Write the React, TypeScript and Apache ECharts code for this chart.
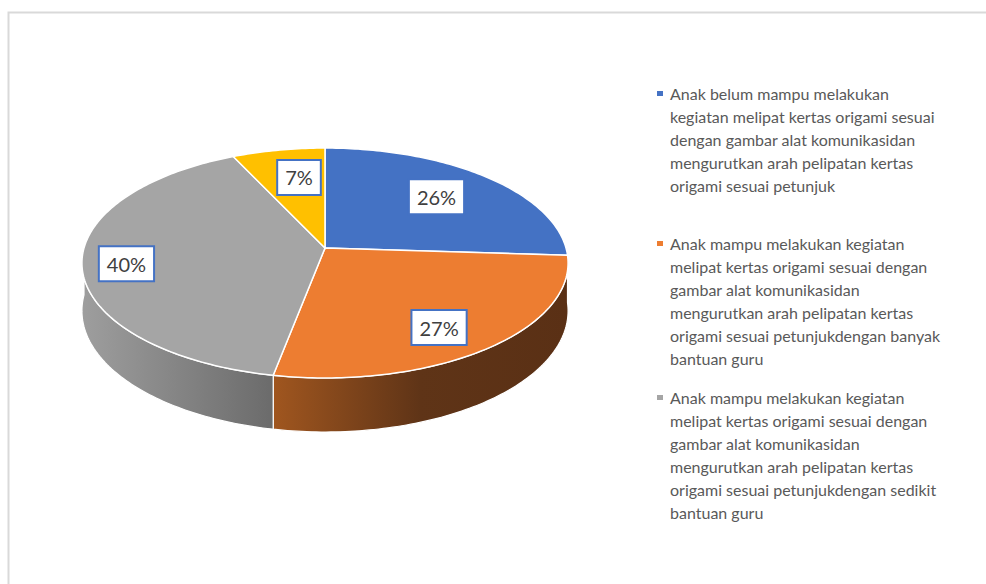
import React, { useEffect, useRef } from 'react';
import * as echarts from 'echarts';

// ---- data ----
const categories: string[] = [
  'Anak belum mampu melakukan\nkegiatan melipat kertas origami sesuai\ndengan gambar alat komunikasidan\nmengurutkan arah pelipatan kertas\norigami sesuai petunjuk',
  'Anak mampu melakukan kegiatan\nmelipat kertas origami sesuai dengan\ngambar alat komunikasidan\nmengurutkan arah pelipatan kertas\norigami sesuai petunjukdengan banyak\nbantuan guru',
  'Anak mampu melakukan kegiatan\nmelipat kertas origami sesuai dengan\ngambar alat komunikasidan\nmengurutkan arah pelipatan kertas\norigami sesuai petunjukdengan sedikit\nbantuan guru',
  'Kategori 4',
];
const values: number[] = [26, 27, 40, 7];

// ---- styles / layout ----
const sliceColors = ['#4472c4', '#ed7d31', '#a5a5a5', '#ffc000'];
const sideStops: [number, string][][] = [
  [[0, '#2f5597'], [1, '#203864']],
  [[0, '#a0561f'], [0.5, '#5f3417'], [1, '#5a3015']],
  [[0, '#9e9e9e'], [1, '#6b6b6b']],
  [[0, '#bf9000'], [1, '#7f6000']],
];
const labelNudge: [number, number][] = [[-12, -2], [-6, 2], [-17, 0], [10, 0]];
const legendShown = 3;
const legendFirstLine = [93, 243, 397];
const FONT = 'Lato, "Open Sans", sans-serif';

const CX = 325, CY = 248, B = 241, A = 113, P = 0.1304, DEPTH = 47;
const LABEL_F = 0.75, LABEL_DY = 5;

const total = values.reduce((a, b) => a + b, 0);
const starts: number[] = [];
{
  let acc = 0;
  for (const v of values) { starts.push((acc / total) * 360); acc += v; }
}

function proj(theta: number, f = 1, drop = 0): number[] {
  const r = (theta * Math.PI) / 180;
  const u = Math.sin(r) * f;
  const v = -Math.cos(r) * f;
  const w = 1 / (1 - P * v);
  return [CX + B * u * w, CY + A * v * w + drop * w];
}

export default function App() {
  const ref = useRef<HTMLDivElement>(null);
  useEffect(() => {
    if (!ref.current) return;
    const chart = echarts.init(ref.current, undefined, { renderer: 'svg' });
    const data = values.map((v, i) => ({ value: v, name: categories[i] }));

    const legendGraphics: any[] = [];
    for (let i = 0; i < legendShown; i++) {
      legendGraphics.push({
        type: 'rect',
        shape: { x: 657, y: legendFirstLine[i] - 2, width: 6, height: 5 },
        style: { fill: sliceColors[i] },
      });
      legendGraphics.push({
        type: 'text',
        x: 670,
        y: legendFirstLine[i] - 11.5,
        style: {
          text: categories[i],
          font: `16px ${FONT}`,
          fill: '#595959',
          lineHeight: 23,
          verticalAlign: 'top',
          align: 'left',
        },
      });
    }

    chart.setOption({
      animation: false,
      backgroundColor: '#ffffff',
      graphic: [
        {
          type: 'rect',
          shape: { x: 8.5, y: 12.5, width: 1000, height: 600 },
          style: { fill: 'none', stroke: '#d9d9d9', lineWidth: 2 },
          z: -10,
        },
        ...legendGraphics,
      ],
      series: [
        {
          type: 'custom',
          name: 'sides',
          coordinateSystem: 'none',
          silent: true,
          z: 1,
          data,
          renderItem: (params: any, api: any) => {
            const i = params.dataIndex;
            const a1 = starts[i];
            const a2 = a1 + (api.value(0) / total) * 360;
            const s = Math.max(a1, 90);
            const e = Math.min(a2, 270);
            if (e <= s) return { type: 'group', children: [] };
            const pts: number[][] = [];
            for (let t = s; t < e; t += 1) pts.push(proj(t));
            pts.push(proj(e));
            for (let t = e; t > s; t -= 1) pts.push(proj(t, 1, DEPTH));
            pts.push(proj(s, 1, DEPTH));
            return {
              type: 'polygon',
              shape: { points: pts },
              style: {
                fill: {
                  type: 'linear', x: 0, y: 0, x2: 1, y2: 0,
                  colorStops: sideStops[i].map(([o, c]) => ({ offset: o, color: c })),
                },
                stroke: '#ffffff',
                lineWidth: 1.2,
              },
            };
          },
        },
        {
          type: 'custom',
          name: 'tops',
          coordinateSystem: 'none',
          silent: true,
          z: 2,
          data,
          renderItem: (params: any, api: any) => {
            const i = params.dataIndex;
            const a1 = starts[i];
            const a2 = a1 + (api.value(0) / total) * 360;
            const pts: number[][] = [proj(0, 0)];
            for (let t = a1; t < a2; t += 1) pts.push(proj(t));
            pts.push(proj(a2));
            return {
              type: 'polygon',
              shape: { points: pts },
              style: { fill: sliceColors[i], stroke: '#ffffff', lineWidth: 1.5 },
            };
          },
        },
        {
          type: 'custom',
          name: 'labels',
          coordinateSystem: 'none',
          silent: true,
          z: 3,
          data,
          renderItem: (params: any, api: any) => {
            const i = params.dataIndex;
            const v = api.value(0);
            const mid = starts[i] + (v / total) * 180;
            const p = proj(mid, LABEL_F);
            return {
              type: 'text',
              x: p[0] + labelNudge[i][0],
              y: p[1] + LABEL_DY + labelNudge[i][1],
              style: {
                text: Math.round((v / total) * 100) + '%',
                font: `20px ${FONT}`,
                fill: '#404040',
                align: 'center',
                verticalAlign: 'middle',
                backgroundColor: '#ffffff',
                borderColor: '#4472c4',
                borderWidth: 2,
                padding: [7, 7, 6, 7],
              },
            };
          },
        },
      ],
    });
    return () => chart.dispose();
  }, []);
  return (
    <div
      ref={ref}
      style={{ position: 'absolute', left: 0, top: 0, width: 986, height: 584 }}
    />
  );
}
